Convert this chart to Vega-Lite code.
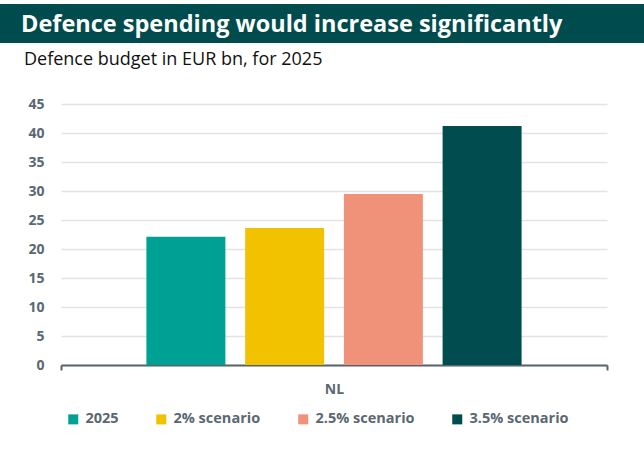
{
  "$schema": "https://vega.github.io/schema/vega-lite/v6.json",
  "padding": {"left": 0, "top": 4, "right": 0, "bottom": 0},
  "background": "white",
  "spacing": 8,
  "config": {
    "font": "Open Sans",
    "view": {"stroke": null},
    "concat": {"spacing": 8}
  },
  "vconcat": [
    {
      "width": 644,
      "height": 39,
      "view": {"fill": "#004b4e", "stroke": null},
      "data": {"values": [{"t": "Defence spending would increase significantly"}]},
      "mark": {"type": "text", "align": "left", "baseline": "middle", "color": "white", "fontSize": 23.5, "fontWeight": "bold", "font": "Open Sans", "dx": 21, "dy": 1},
      "encoding": {
        "text": {"field": "t"},
        "x": {"datum": 0, "scale": {"domain": [0, 1]}, "axis": null},
        "y": {"datum": 0.5, "scale": {"domain": [0, 1]}, "axis": null}
      }
    },
    {
      "spacing": 22,
      "hconcat": [
        {
          "width": 1,
          "height": 1,
          "data": {"values": []},
          "mark": "point",
          "encoding": {}
        },
        {
          "width": 546,
          "height": 261,
          "title": {"text": "Defence budget in EUR bn, for 2025", "anchor": "start", "frame": "bounds", "dx": -4, "fontSize": 18, "fontWeight": "normal", "color": "#111111", "font": "Open Sans", "offset": 28},
          "data": {"values": [
            {"country": "NL", "series": "2025", "value": 22.1},
            {"country": "NL", "series": "2% scenario", "value": 23.6},
            {"country": "NL", "series": "2.5% scenario", "value": 29.5},
            {"country": "NL", "series": "3.5% scenario", "value": 41.2}
          ]},
          "mark": {"type": "bar"},
          "encoding": {
            "x": {"field": "country", "type": "nominal", "title": null,
              "scale": {"paddingInner": 0, "paddingOuter": 0},
              "axis": {"labelAngle": 0, "tickBand": "extent", "ticks": true, "tickSize": 5, "tickWidth": 2, "tickColor": "#56646c", "domainColor": "#56646c", "domainWidth": 2, "labelFont": "Open Sans", "labelFontSize": 14, "labelFontWeight": "bold", "labelColor": "#5a6870", "labelPadding": 12, "grid": false}},
            "xOffset": {"field": "series", "type": "nominal",
              "scale": {"domain": ["2025", "2% scenario", "2.5% scenario", "3.5% scenario"], "paddingInner": 0.2, "paddingOuter": 0.865}},
            "y": {"field": "value", "type": "quantitative", "title": null,
              "scale": {"domain": [0, 45], "nice": false},
              "axis": {"values": [0, 5, 10, 15, 20, 25, 30, 35, 40, 45], "domain": false, "ticks": false, "grid": true, "gridColor": "#e3e3e3", "gridWidth": 1.5, "labelFont": "Open Sans", "labelFontSize": 14, "labelFontWeight": "bold", "labelColor": "#5a6870", "labelPadding": 17}},
            "color": {"field": "series", "type": "nominal",
              "scale": {"domain": ["2025", "2% scenario", "2.5% scenario", "3.5% scenario"], "range": ["#00a195", "#f2c200", "#f0917a", "#004c4f"]},
              "legend": {"title": null, "orient": "none", "direction": "horizontal", "legendX": 66, "legendY": 408, "padding": 0, "symbolType": "square", "symbolSize": 100, "symbolStrokeWidth": 0, "labelOffset": 5, "columnPadding": 35, "labelFont": "Open Sans", "labelFontSize": 14.5, "labelFontWeight": "bold", "labelColor": "#5a6870"}}
          }
        }
      ]
    }
  ]
}
